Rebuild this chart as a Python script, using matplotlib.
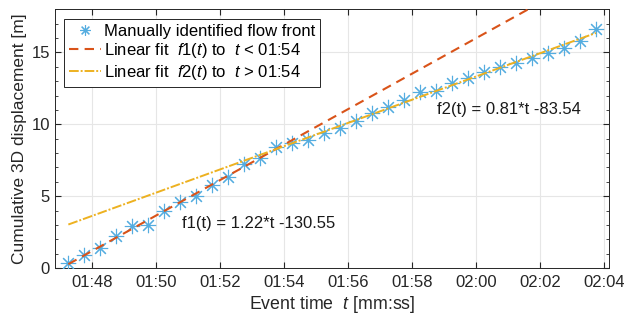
import numpy as np
import matplotlib
matplotlib.use("Agg")
import matplotlib.pyplot as plt
from matplotlib.ticker import MultipleLocator

plt.rcParams['font.family'] = ['Liberation Sans', 'DejaVu Sans']
plt.rcParams['mathtext.fontset'] = 'custom'
plt.rcParams['mathtext.it'] = 'Liberation Sans:italic'
plt.rcParams['mathtext.rm'] = 'Liberation Sans'

# Event time in seconds (mm:ss -> seconds)
t_sec = [107.25, 107.75, 108.25, 108.75, 109.25, 109.75, 110.25, 110.75,
         111.25, 111.75, 112.25, 112.75, 113.25, 113.75, 114.25, 114.75,
         115.25, 115.75, 116.25, 116.75, 117.25, 117.75, 118.25, 118.75,
         119.25, 119.75, 120.25, 120.75, 121.25, 121.75, 122.25, 122.75,
         123.25, 123.75]
disp_m = [0.36, 0.89, 1.43, 2.22, 2.96, 3.03, 3.98, 4.63,
          5.05, 5.80, 6.31, 7.21, 7.63, 8.42, 8.68, 8.90,
          9.37, 9.76, 10.24, 10.77, 11.18, 11.69, 12.23, 12.34,
          12.90, 13.20, 13.67, 13.97, 14.25, 14.60, 14.95, 15.30,
          15.80, 16.64]
split_t = 114.0
xticks = [108, 110, 112, 114, 116, 118, 120, 122, 124]
xticklabels = ['01:48', '01:50', '01:52', '01:54', '01:56', '01:58', '02:00', '02:02', '02:04']
yticks = [0, 5, 10, 15]
f1_text = 'f1(t) = 1.22*t -130.55'
f2_text = 'f2(t) = 0.81*t -83.54'

t = np.array(t_sec)
d = np.array(disp_m)
m1 = t < split_t
m2 = t > split_t
p1 = np.polyfit(t[m1], d[m1], 1)
p2 = np.polyfit(t[m2], d[m2], 1)

fig = plt.figure(figsize=(6.24, 3.23), dpi=100)
ax = fig.add_axes([0.088, 0.170, 0.888, 0.801])

ax.plot(t, d, linestyle='none', marker=(8, 2, 0), markersize=11, markeredgewidth=0.8,
        color='#55ade0', label='Manually identified flow front', zorder=3)
ax.plot(t, np.polyval(p1, t), linestyle=(0, (4.5, 3)), color='#D95319', linewidth=1.5,
        label=r'Linear fit  $\mathit{f1(t)}$ to  $\mathit{t}$ < 01:54', zorder=4)
ax.plot(t, np.polyval(p2, t), linestyle=(0, (5, 1, 1, 1)), color='#EDB120', linewidth=1.4,
        label=r'Linear fit  $\mathit{f2(t)}$ to  $\mathit{t}$ > 01:54', zorder=5)

ax.set_xlim(106.83, 124.16)
ax.set_ylim(0, 18)
ax.set_xticks(xticks)
ax.set_xticklabels(xticklabels)
ax.set_yticks(yticks)
ax.yaxis.set_minor_locator(MultipleLocator(1))
ax.tick_params(direction='in', which='both', top=True, right=True, labelsize=12,
               color='#262626', labelcolor='#262626')
ax.tick_params(which='major', length=4)
ax.tick_params(which='minor', length=2.5)
ax.tick_params(axis='x', pad=5)
ax.grid(True, which='major', color='#e6e6e6', linewidth=0.8)
ax.set_axisbelow(True)
for s in ax.spines.values():
    s.set_color('#262626')
    s.set_linewidth(0.7)

ax.set_xlabel(r'Event time  $\mathit{t}$ [mm:ss]', fontsize=12.8, color='#262626', labelpad=3)
ax.set_ylabel('Cumulative 3D displacement [m]', fontsize=12.5, color='#262626', labelpad=3)

ax.text(110.8, 3.12, f1_text, fontsize=12, va='center', ha='left', color='#1a1a1a')
ax.text(118.78, 11.0, f2_text, fontsize=12, va='center', ha='left', color='#1a1a1a')

leg = ax.legend(loc='upper left', fontsize=12, frameon=True, fancybox=False,
                edgecolor='#262626', framealpha=1, borderpad=0.3, labelspacing=0.15,
                handlelength=1.9, handletextpad=0.2, borderaxespad=0.55, markerscale=0.7)
leg.get_frame().set_linewidth(0.7)

fig.savefig('out.png', dpi=100)
